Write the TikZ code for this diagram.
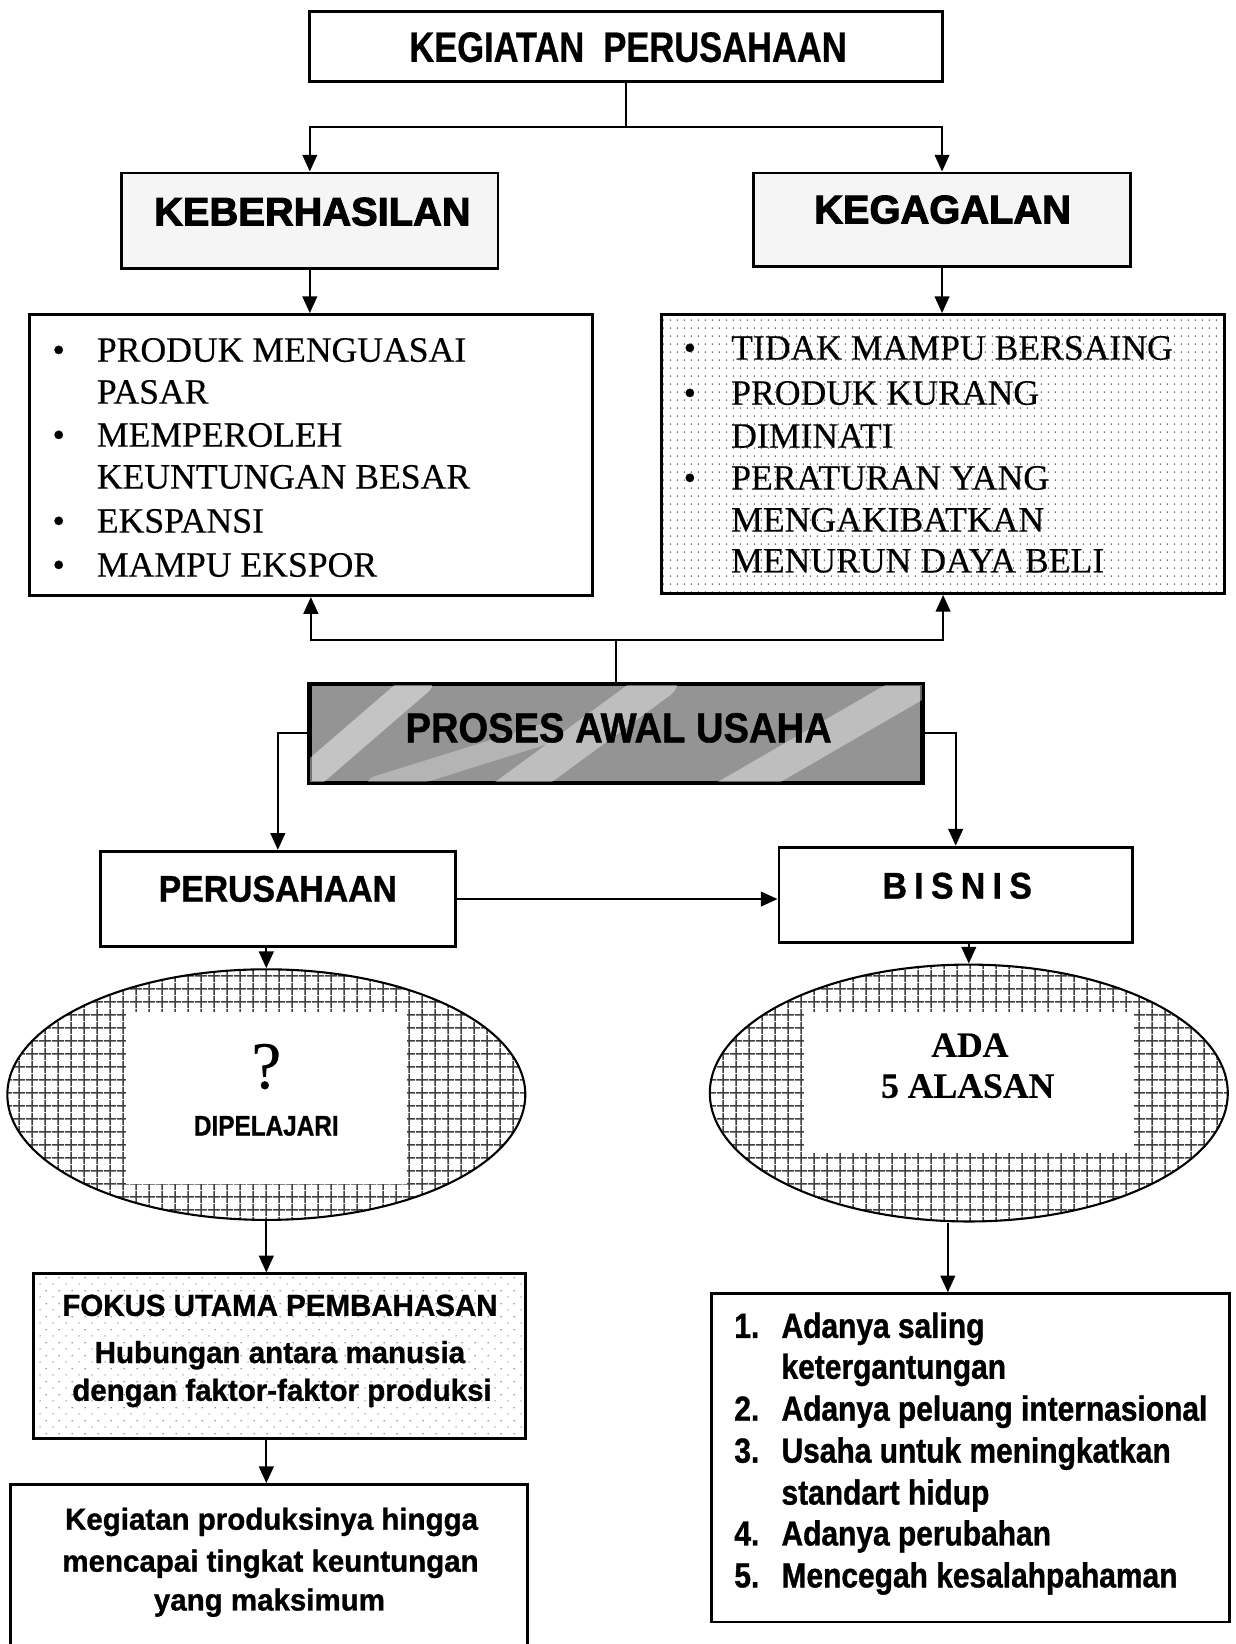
\documentclass[tikz,border=0pt]{standalone}
\usepackage{fontspec}
\setmainfont{Liberation Serif}[FakeBold=0.4]
\newfontfamily\sfk[FakeStretch=0.81,BoldFeatures={FakeBold=0.6}]{Liberation Sans}
\newfontfamily\sfn[FakeStretch=0.86,BoldFeatures={FakeBold=1}]{Liberation Sans}
\newfontfamily\sfp[FakeStretch=0.91,BoldFeatures={FakeBold=1}]{Liberation Sans}
\newfontfamily\sfw[FakeStretch=0.97,BoldFeatures={FakeBold=1}]{Liberation Sans}
\newfontfamily\hv[BoldFeatures={FakeBold=2.5}]{Liberation Sans}
\usetikzlibrary{arrows.meta,patterns,shapes.geometric}

\pgfdeclarepatternformonly{fgrid}{\pgfqpoint{0pt}{0pt}}{\pgfqpoint{6pt}{6pt}}{\pgfqpoint{6pt}{6pt}}{%
  \pgfsetlinewidth{0.7pt}%
  \pgfpathmoveto{\pgfqpoint{0pt}{3pt}}\pgfpathlineto{\pgfqpoint{6pt}{3pt}}%
  \pgfpathmoveto{\pgfqpoint{3pt}{0pt}}\pgfpathlineto{\pgfqpoint{3pt}{6pt}}%
  \pgfusepath{stroke}}
\pgfdeclarepatternformonly{fdots}{\pgfqpoint{0pt}{0pt}}{\pgfqpoint{3.5pt}{4pt}}{\pgfqpoint{3.5pt}{4pt}}{%
  \pgfpathcircle{\pgfqpoint{1.75pt}{2pt}}{0.45pt}\pgfusepath{fill}}
\pgfdeclarepatternformonly{sdots}{\pgfqpoint{0pt}{0pt}}{\pgfqpoint{6pt}{6pt}}{\pgfqpoint{6pt}{6pt}}{%
  \pgfpathcircle{\pgfqpoint{1pt}{1.5pt}}{0.35pt}\pgfpathcircle{\pgfqpoint{4pt}{4.5pt}}{0.35pt}\pgfusepath{fill}}

\tikzset{
  box/.style={draw, line width=1.4pt, rectangle, inner sep=0pt},
  conn/.style={line width=1pt},
  arr/.style={conn, -{Triangle[length=8pt,width=7pt]}},
  txt/.style={inner sep=0pt, anchor=base},
  ltxt/.style={inner sep=0pt, anchor=base west},
  serif/.style={font=\fontsize{17}{20}\selectfont},
  nlist/.style={font=\sfn\bfseries\fontsize{16.6}{20}\selectfont},
  wtext/.style={font=\sfw\bfseries\fontsize{14.5}{18}\selectfont},
}

\begin{document}
\begin{tikzpicture}[x=0.5pt,y=-0.5pt]
\useasboundingbox (0,0) rectangle (1178,1568);

% ---------- boxes ----------
\node[box, minimum width=302pt, minimum height=33.5pt] (top) at (597,44.5) {};
\node[box, fill=black!4, minimum width=179.5pt, minimum height=45.5pt] (keb) at (295.5,210.5) {};
\node[box, fill=black!4, minimum width=179.5pt, minimum height=44.5pt] (keg) at (898.5,209.5) {};
\node[box, minimum width=268.5pt, minimum height=134pt] (list1) at (296.5,434) {};
\node[box, pattern=fdots, pattern color=black!60, minimum width=268.5pt, minimum height=133pt] (list2) at (899.5,433) {};

\node[box, fill=black!42, minimum width=291.5pt, minimum height=46.5pt] (proses) at (587.5,699.5) {};
\begin{scope}
  \clip (proses.south west) rectangle (proses.north east);
  \draw[white, opacity=0.45, line width=13pt, line cap=round] (290,745) -- (400,650);
  \draw[white, opacity=0.4, line width=16pt, line cap=round] (480,760) -- (630,650);
  \draw[white, opacity=0.4, line width=15pt, line cap=round] (690,760) -- (880,650);
  \draw[white, opacity=0.3, line width=10pt, line cap=round] (360,750) -- (520,700);
\end{scope}
\draw[line width=1.4pt] (proses.south west) rectangle (proses.north east);

\node[box, minimum width=169pt, minimum height=45.5pt] (peru) at (265,857.5) {};
\node[box, minimum width=168.5pt, minimum height=45.5pt] (bis) at (911.5,853.5) {};

\node[ellipse, draw, line width=1pt, pattern=fgrid, pattern color=black!75, minimum width=247pt, minimum height=119.5pt, inner sep=0pt] (ell1) at (254,1044) {};
\fill[white] (120,965) rectangle (388,1129);
\node[ellipse, draw, line width=1pt, pattern=fgrid, pattern color=black!75, minimum width=247pt, minimum height=122.5pt, inner sep=0pt] (ell2) at (924,1042.5) {};
\fill[white] (767,965) rectangle (1082,1100);

\node[box, pattern=sdots, pattern color=black!55, minimum width=234.5pt, minimum height=78.5pt] (fokus) at (266.5,1293.5) {};
\node[box, minimum width=246.5pt, minimum height=92pt] (last) at (256.5,1508) {};
\node[box, minimum width=247pt, minimum height=156.5pt] (list3) at (926,1390.5) {};

% ---------- connectors ----------
\coordinate (j1) at (597,121);
\draw[conn] (top.south) -- (j1);
\draw[arr] (j1) -| (keb.north);
\draw[arr] (j1) -| (keg.north);
\draw[arr] (keb.south) -- (keb.south |- list1.north);
\draw[arr] (keg.south) -- (keg.south |- list2.north);

\coordinate (j2) at (587.5,610);
\draw[conn] (proses.north) -- (j2);
\draw[arr] (j2) -| (list1.south);
\draw[arr] (j2) -| (list2.south);

\draw[arr] (proses.west) -| (peru.north);
\draw[arr] (proses.east) -| (bis.north);
\draw[arr] (peru.east) -- (peru.east -| bis.west);
\draw[arr] (ell1.north |- peru.south) -- (ell1.north);
\draw[arr] (ell2.north |- bis.south) -- (ell2.north);
\draw[arr] (ell1.south) -- (ell1.south |- fokus.north);
\draw[arr] (ell1.south |- fokus.south) -- (ell1.south |- last.north);
\draw[arr] ([xshift=-10pt]ell2.south) -- ([xshift=-10pt]ell2.south |- list3.north);

% ---------- texts ----------
\node[txt, font=\sfk\bfseries\fontsize{20.3}{24}\selectfont] (t-top) at (599,59) {KEGIATAN\ \ PERUSAHAAN};
\node[txt, font=\hv\bfseries\fontsize{19}{22}\selectfont] (t-keb) at (298,215) {KEBERHASILAN};
\node[txt, font=\hv\bfseries\fontsize{19}{22}\selectfont] (t-keg) at (899,213) {KEGAGALAN};

\node[txt, serif] (b1) at (56,345) {\textbullet};
\node[ltxt, serif] (l1) at (92,345) {PRODUK MENGUASAI};
\node[ltxt, serif] (l2) at (92,385) {PASAR};
\node[txt, serif] (b2) at (56,426) {\textbullet};
\node[ltxt, serif] (l3) at (92,426) {MEMPEROLEH};
\node[ltxt, serif] (l4) at (92,466) {KEUNTUNGAN BESAR};
\node[txt, serif] (b3) at (56,508) {\textbullet};
\node[ltxt, serif] (l5) at (92,508) {EKSPANSI};
\node[txt, serif] (b4) at (56,550) {\textbullet};
\node[ltxt, serif] (l6) at (92,550) {MAMPU EKSPOR};

\node[txt, serif] (c1) at (658,343) {\textbullet};
\node[ltxt, serif] (r1) at (697,343) {TIDAK MAMPU BERSAING};
\node[txt, serif] (c2) at (658,386) {\textbullet};
\node[ltxt, serif] (r2) at (697,386) {PRODUK KURANG};
\node[ltxt, serif] (r3) at (697,427) {DIMINATI};
\node[txt, serif] (c3) at (658,467) {\textbullet};
\node[ltxt, serif] (r4) at (697,467) {PERATURAN YANG};
\node[ltxt, serif] (r5) at (697,507) {MENGAKIBATKAN};
\node[ltxt, serif] (r6) at (697,546) {MENURUN DAYA BELI};

\node[txt, font=\sfp\bfseries\fontsize{20}{24}\selectfont] (t-pro) at (590,708) {PROSES AWAL USAHA};
\node[txt, font=\sfp\bfseries\fontsize{17.7}{21}\selectfont] (t-peru) at (265,860) {PERUSAHAAN};
\node[txt, font=\sfp\bfseries\fontsize{17.7}{21}\selectfont] (t-bis) at (913,857) {B\kern3.5pt I\kern3.5pt S\kern3.5pt N\kern3.5pt I\kern3.5pt S};

\node[txt, font=\fontsize{32}{36}\selectfont] (t-q) at (254,1038) {?};
\node[txt, font=\sfn\bfseries\fontsize{13.5}{16}\selectfont] (t-dip) at (254,1083) {DIPELAJARI};
\node[txt, font=\bfseries\fontsize{17}{20}\selectfont] (t-ada) at (925,1008) {ADA};
\node[txt, font=\bfseries\fontsize{17}{20}\selectfont] (t-5) at (923,1047) {5 ALASAN};

\node[txt, wtext] (f1) at (267,1255) {FOKUS UTAMA PEMBAHASAN};
\node[txt, wtext] (f2) at (267,1300) {Hubungan antara manusia};
\node[txt, wtext] (f3) at (269,1336) {dengan faktor-faktor produksi};

\node[txt, wtext] (k1) at (259,1459) {Kegiatan produksinya hingga};
\node[txt, wtext] (k2) at (258,1499) {mencapai tingkat keuntungan};
\node[txt, wtext] (k3) at (257,1536) {yang maksimum};

\node[ltxt, nlist] (n1) at (700,1276) {1.};
\node[ltxt, nlist] (a1) at (745,1276) {Adanya saling};
\node[ltxt, nlist] (a1b) at (745,1315) {ketergantungan};
\node[ltxt, nlist] (n2) at (700,1355) {2.};
\node[ltxt, nlist] (a2) at (745,1355) {Adanya peluang internasional};
\node[ltxt, nlist] (n3) at (700,1395) {3.};
\node[ltxt, nlist] (a3) at (745,1395) {Usaha untuk meningkatkan};
\node[ltxt, nlist] (a3b) at (745,1435) {standart hidup};
\node[ltxt, nlist] (n4) at (700,1474) {4.};
\node[ltxt, nlist] (a4) at (745,1474) {Adanya perubahan};
\node[ltxt, nlist] (n5) at (700,1514) {5.};
\node[ltxt, nlist] (a5) at (745,1514) {Mencegah kesalahpahaman};
\end{tikzpicture}
\end{document}
